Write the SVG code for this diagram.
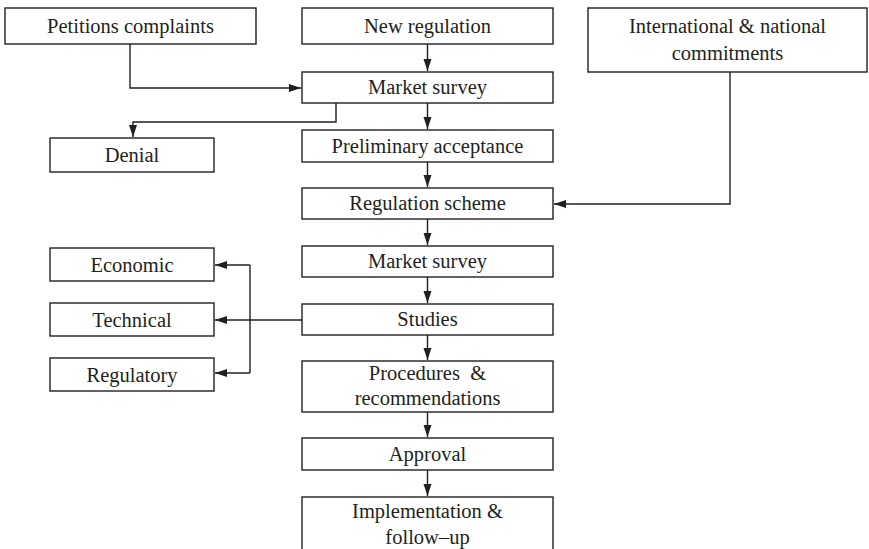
<svg xmlns="http://www.w3.org/2000/svg" width="869" height="549" viewBox="0 0 869 549">
<defs>
<marker id="ah" markerUnits="userSpaceOnUse" markerWidth="13" markerHeight="9" refX="12" refY="4" orient="auto">
<path d="M0,0 L12,4 L0,8 z" fill="#231f20"/>
</marker>
<style>
rect{fill:#fff;stroke:#231f20;stroke-width:1.4}
text{font-family:"Liberation Serif","Times New Roman",serif;font-size:20.5px;fill:#231f20;text-anchor:middle;white-space:pre}
.c{fill:none;stroke:#231f20;stroke-width:1.4}
</style>
</defs>
<rect x="0" y="0" width="869" height="549" style="stroke:none"/>
<g id="connectors">
<path class="c" d="M130,44 V88 H301" marker-end="url(#ah)"/>
<path class="c" d="M336,103 V122 H133 V137" marker-end="url(#ah)"/>
<path class="c" d="M730,72 V204 H554" marker-end="url(#ah)"/>
<path class="c" d="M427.5,44 V71" marker-end="url(#ah)"/>
<path class="c" d="M427.5,103 V129" marker-end="url(#ah)"/>
<path class="c" d="M427.5,162 V187" marker-end="url(#ah)"/>
<path class="c" d="M427.5,219 V245" marker-end="url(#ah)"/>
<path class="c" d="M427.5,277 V303" marker-end="url(#ah)"/>
<path class="c" d="M427.5,335 V360" marker-end="url(#ah)"/>
<path class="c" d="M427.5,412 V437" marker-end="url(#ah)"/>
<path class="c" d="M427.5,470 V496" marker-end="url(#ah)"/>
<path class="c" d="M302,320 H215" marker-end="url(#ah)"/>
<path class="c" d="M250,265 V373"/>
<path class="c" d="M250,265 H215" marker-end="url(#ah)"/>
<path class="c" d="M250,373 H215" marker-end="url(#ah)"/>
</g>
<g id="petitions"><rect x="5" y="8" width="251" height="36"/><text x="130.5" y="33">Petitions complaints</text></g>
<g id="new-regulation"><rect x="302" y="8" width="251" height="36"/><text x="427.5" y="33">New regulation</text></g>
<g id="international"><rect x="588" y="8" width="279" height="64"/><text x="727.5" y="33">International &amp; national</text><text x="727.5" y="60">commitments</text></g>
<g id="market-survey-1"><rect x="302" y="72" width="251" height="31"/><text x="427.5" y="94">Market survey</text></g>
<g id="denial"><rect x="50" y="138" width="164" height="34"/><text x="132" y="161.5">Denial</text></g>
<g id="preliminary"><rect x="302" y="130" width="251" height="32"/><text x="427.5" y="152.5">Preliminary acceptance</text></g>
<g id="regulation-scheme"><rect x="302" y="188" width="251" height="31"/><text x="427.5" y="210">Regulation scheme</text></g>
<g id="market-survey-2"><rect x="302" y="246" width="251" height="31"/><text x="427.5" y="268">Market survey</text></g>
<g id="studies"><rect x="302" y="304" width="251" height="31"/><text x="427.5" y="326">Studies</text></g>
<g id="economic"><rect x="50" y="248" width="164" height="33"/><text x="132" y="271.5">Economic</text></g>
<g id="technical"><rect x="50" y="303" width="164" height="33"/><text x="132" y="326.5">Technical</text></g>
<g id="regulatory"><rect x="50" y="358" width="164" height="33"/><text x="132" y="381.5">Regulatory</text></g>
<g id="procedures"><rect x="302" y="361" width="251" height="51"/><text x="427.5" y="380">Procedures  &amp;</text><text x="427.5" y="405">recommendations</text></g>
<g id="approval"><rect x="302" y="438" width="251" height="32"/><text x="427.5" y="460.5">Approval</text></g>
<g id="implementation"><rect x="302" y="497" width="251" height="60"/><text x="427.5" y="518">Implementation &amp;</text><text x="427.5" y="544">follow–up</text></g>
</svg>
